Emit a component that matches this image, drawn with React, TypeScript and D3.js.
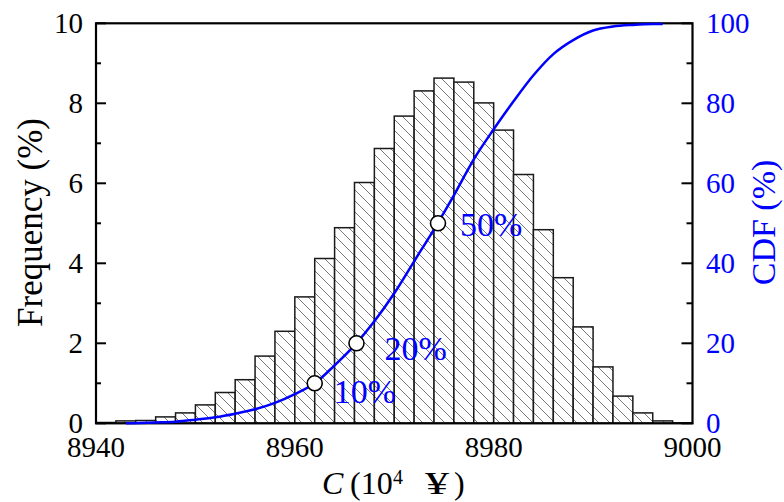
import React from "react";
import * as d3 from "d3";

// ---- data ----
const binStarts = [8940, 8942, 8944, 8946, 8948, 8950, 8952, 8954, 8956, 8958, 8960, 8962, 8964, 8966, 8968, 8970, 8972, 8974, 8976, 8978, 8980, 8982, 8984, 8986, 8988, 8990, 8992, 8994, 8996, 8998];
const binWidth = 2;
const frequency = [0.02, 0.06, 0.07, 0.16, 0.26, 0.46, 0.77, 1.09, 1.68, 2.30, 3.16, 4.12, 4.89, 6.02, 6.87, 7.68, 8.31, 8.63, 8.53, 8.01, 7.33, 6.22, 4.84, 3.64, 2.41, 1.41, 0.68, 0.26, 0.06, 0.01];

const cdfX = [8943, 8946, 8948, 8950, 8952, 8954, 8956, 8958, 8960, 8962, 8964, 8966, 8968, 8970, 8972, 8974, 8976, 8978, 8980, 8982, 8984, 8986, 8988, 8990, 8992, 8994, 8996, 8997];
const cdfY = [0, 0.2, 0.4, 0.9, 1.5, 2.4, 3.5, 5.1, 7.3, 10, 14.5, 19.5, 25.5, 32.5, 40.5, 48.5, 57, 66, 73.5, 80.5, 87, 92.3, 95.8, 98.2, 99.2, 99.6, 99.8, 99.8];

const markerX = [8962, 8966.2, 8974.4];
const markerY = [10, 20, 50];
const markerLabels = ["10%", "20%", "50%"];

const xTicks = [8940, 8960, 8980, 9000];
const yLeftTicks = [0, 2, 4, 6, 8, 10];
const yLeftMinor = [1, 3, 5, 7, 9];
const yRightTicks = [0, 20, 40, 60, 80, 100];
const yRightMinor = [10, 30, 50, 70, 90];

// ---- layout ----
const W = 784, H = 502;
const L = 96, R = 692.5, T = 23.3, B = 423.3;
const FONT = "'Liberation Serif', 'Times New Roman', serif";
const BLUE = "#0000ff";

export default function App() {
  const x = d3.scaleLinear().domain([8940, 9000]).range([L, R]);
  const yL = d3.scaleLinear().domain([0, 10]).range([B, T]);
  const yR = d3.scaleLinear().domain([0, 100]).range([B, T]);

  const line = d3
    .line<number>()
    .x((_, i) => x(cdfX[i]))
    .y((d) => yR(d))
    .curve(d3.curveMonotoneX);

  const s = 11;
  const labelOffsets = [
    { dx: 19, dy: 20 },
    { dx: 28, dy: 17 },
    { dx: 22, dy: 13 },
  ];

  return (
    <svg
      width={W}
      height={H}
      style={{ position: "absolute", left: 0, top: 0, background: "#fff" }}
      fontFamily={FONT}
    >
      <defs>
        <pattern id="hatch" patternUnits="userSpaceOnUse" width={s} height={s}>
          <rect width={s} height={s} fill="#fff" />
          <path
            d={`M0,0 L${s},${s} M-1,${s - 1} L1,${s + 1} M${s - 1},-1 L${s + 1},1`}
            stroke="#6a6a6a"
            strokeWidth={0.9}
          />
        </pattern>
      </defs>

      {/* bars */}
      {frequency.map((f, i) => (
        <rect
          key={i}
          x={x(binStarts[i])}
          y={yL(f)}
          width={x(binStarts[i] + binWidth) - x(binStarts[i])}
          height={B - yL(f)}
          fill="url(#hatch)"
          stroke="#1a1a1a"
          strokeWidth={1.5}
        />
      ))}

      {/* frame */}
      <rect x={L} y={T} width={R - L} height={B - T} fill="none" stroke="#000" strokeWidth={2.2} />

      {/* left ticks */}
      {yLeftTicks.map((t) => (
        <g key={"yl" + t}>
          <line x1={L} x2={L + 10} y1={yL(t)} y2={yL(t)} stroke="#000" strokeWidth={2} />
          <text x={83} y={yL(t)} dy="0.35em" textAnchor="end" fontSize={29} fill="#000">
            {t}
          </text>
        </g>
      ))}
      {yLeftMinor.map((t) => (
        <line key={"ylm" + t} x1={L} x2={L + 5} y1={yL(t)} y2={yL(t)} stroke="#000" strokeWidth={2} />
      ))}

      {/* right ticks */}
      {yRightTicks.map((t) => (
        <g key={"yr" + t}>
          <line x1={R} x2={R - 11} y1={yR(t)} y2={yR(t)} stroke="#000" strokeWidth={2} />
          <text x={706} y={yR(t)} dy="0.35em" textAnchor="start" fontSize={29} fill={BLUE}>
            {t}
          </text>
        </g>
      ))}
      {yRightMinor.map((t) => (
        <line key={"yrm" + t} x1={R} x2={R - 6} y1={yR(t)} y2={yR(t)} stroke="#000" strokeWidth={2} />
      ))}

      {/* bottom tick labels */}
      {xTicks.map((t) => (
        <text key={"x" + t} x={x(t)} y={457} textAnchor="middle" fontSize={29} fill="#000">
          {t}
        </text>
      ))}

      {/* CDF curve */}
      <path d={line(cdfY) || ""} fill="none" stroke={BLUE} strokeWidth={2.5} />

      {/* markers */}
      {markerX.map((mx, i) => (
        <g key={"m" + i}>
          <circle cx={x(mx)} cy={yR(markerY[i])} r={7.5} fill="#fff" stroke="#000" strokeWidth={1.6} />
          <text
            x={x(mx) + labelOffsets[i].dx}
            y={yR(markerY[i]) + labelOffsets[i].dy}
            fontSize={34}
            fill={BLUE}
          >
            {markerLabels[i]}
          </text>
        </g>
      ))}

      {/* axis titles */}
      <text transform={`translate(42,222.5) rotate(-90)`} textAnchor="middle" fontSize={35} fill="#000">
        Frequency (%)
      </text>
      <text transform={`translate(775,222.5) rotate(-90)`} textAnchor="middle" fontSize={34} fill={BLUE}>
        CDF (%)
      </text>

      <text y={494} fontSize={32} fill="#000">
        <tspan x={322} fontStyle="italic">C</tspan>
        <tspan x={350}>(10</tspan>
        <tspan x={393} y={484} fontSize={20}>4</tspan>
      </text>
      <text transform="translate(437,494) scale(1.5,1)" textAnchor="middle" fontSize={32} fill="#000">
        ¥
      </text>
      <text x={454} y={494} fontSize={32} fill="#000">)</text>
    </svg>
  );
}
